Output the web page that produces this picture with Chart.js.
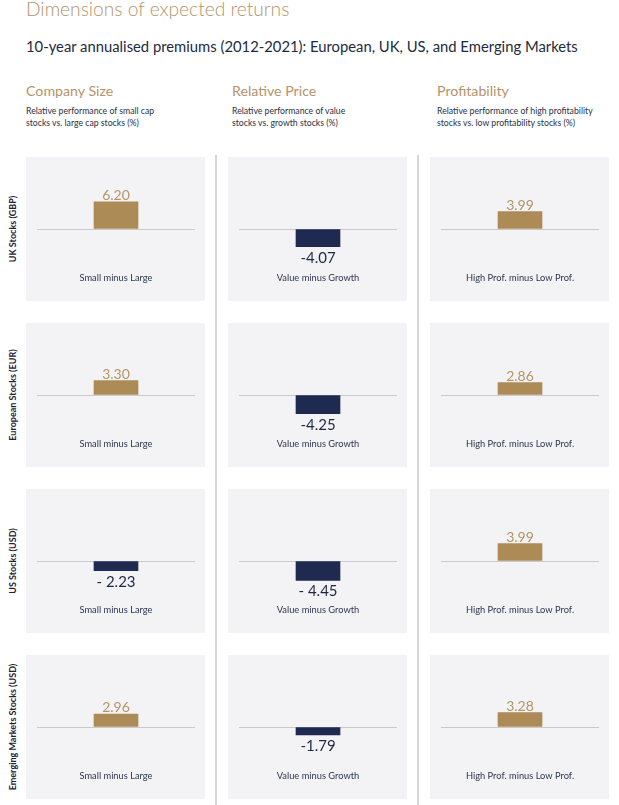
<!DOCTYPE html>
<html>
<head>
<meta charset="utf-8">
<script src="https://cdn.jsdelivr.net/npm/chart.js@4.4.1/dist/chart.umd.min.js"></script>
<style>
  html, body { margin: 0; padding: 0; background: #fff; }
  body { width: 619px; height: 805px; position: relative; overflow: hidden; font-family: Lato, "Open Sans", sans-serif; }
  .abs { position: absolute; white-space: nowrap; }
  #title { left: 26px; top: -4px; font-size: 19.2px; font-weight: 300; color: #b3946a; line-height: 26px; }
  #subtitle { left: 26px; top: 37px; font-size: 14.8px; color: #232a40; line-height: 18px; }
  .head { font-size: 14.2px; color: #b3946a; line-height: 18px; }
  .note { font-size: 8.7px; color: #2a2f45; line-height: 12px; }
  .rowlab { font-size: 9px; font-weight: 700; color: #1b2035; transform: translate(-50%, -50%) rotate(-90deg); }
  .panel { position: absolute; background: #f3f3f5; }
  .sep { position: absolute; width: 2px; background: #d6d6d9; }
</style>
</head>
<body>
<div id="title" class="abs">Dimensions of expected returns</div>
<div id="subtitle" class="abs">10-year annualised premiums (2012-2021): European, UK, US, and Emerging Markets</div>
<script>
// data
const rowLabels = ['UK Stocks (GBP)', 'European Stocks (EUR)', 'US Stocks (USD)', 'Emerging Markets Stocks (USD)'];
const factorTitles = ['Company Size', 'Relative Price', 'Profitability'];
const factorNotes = [
  ['Relative performance of small cap', 'stocks vs. large cap stocks (%)'],
  ['Relative performance of value', 'stocks vs. growth stocks (%)'],
  ['Relative performance of high profitability', 'stocks vs. low profitability stocks (%)']
];
const categories = ['Small minus Large', 'Value minus Growth', 'High Prof. minus Low Prof.'];
const sizePremium = [6.20, 3.30, -2.23, 2.96];
const valuePremium = [-4.07, -4.25, -4.45, -1.79];
const profPremium = [3.99, 2.86, 3.99, 3.28];
const sizeLabels = ['6.20', '3.30', '- 2.23', '2.96'];
const valueLabels = ['-4.07', '-4.25', '- 4.45', '-1.79'];
const profLabels = ['3.99', '2.86', '3.99', '3.28'];

const series = [sizePremium, valuePremium, profPremium];
const seriesLabels = [sizeLabels, valueLabels, profLabels];

const GOLD = '#ad8b56';
const NAVY = '#1f2a50';
const colX = [26, 228, 430];
const headX = [26, 232, 437];
const rowY = [157, 323, 489, 655];
const PW = 179, PH = 144;

function addDiv(cls, text, css) {
  const d = document.createElement('div');
  d.className = cls;
  d.textContent = text;
  Object.assign(d.style, css);
  document.body.appendChild(d);
  return d;
}

// column headers
factorTitles.forEach((t, c) => {
  addDiv('abs head', t, { left: headX[c] + 'px', top: '82px' });
  factorNotes[c].forEach((line, i) => {
    addDiv('abs note', line, { left: headX[c] + 'px', top: (105 + i * 12) + 'px' });
  });
});

// separators
[215, 417].forEach(x => addDiv('sep', '', { left: x + 'px', top: '155px', height: '650px' }));

// row labels
rowLabels.forEach((t, r) => {
  addDiv('abs rowlab', t, { left: '12px', top: (rowY[r] + 72) + 'px' });
});

const valueLabelPlugin = {
  id: 'valueLabel',
  afterDatasetsDraw(chart) {
    const ctx = chart.ctx;
    const bar = chart.getDatasetMeta(0).data[0];
    const v = chart.data.datasets[0].data[0];
    const txt = chart.options.plugins.valueLabel.text;
    const zero = chart.scales.y.getPixelForValue(0);
    ctx.save();
    ctx.textAlign = 'center';
    ctx.textBaseline = 'alphabetic';
    if (v >= 0) {
      ctx.font = '400 14px Lato';
      ctx.fillStyle = '#b39466';
      ctx.fillText(txt, bar.x, bar.y - 2);
    } else {
      ctx.font = '400 15px Lato';
      ctx.fillStyle = '#1f2745';
      ctx.fillText(txt, bar.x, bar.y + 16);
    }
    ctx.font = '400 9.3px Lato';
    ctx.fillStyle = '#2e3550';
    ctx.textBaseline = 'middle';
    ctx.fillText(chart.data.labels[0], bar.x, zero + 49);
    ctx.restore();
  }
};

series.forEach((vals, c) => {
  vals.forEach((v, r) => {
    const panel = document.createElement('div');
    panel.className = 'panel';
    Object.assign(panel.style, { left: colX[c] + 'px', top: rowY[r] + 'px', width: PW + 'px', height: PH + 'px' });
    const cv = document.createElement('canvas');
    cv.width = PW; cv.height = PH;
    cv.style.width = PW + 'px'; cv.style.height = PH + 'px';
    panel.appendChild(cv);
    document.body.appendChild(panel);

    new Chart(cv, {
      type: 'bar',
      data: {
        labels: [categories[c]],
        datasets: [{
          data: [v],
          backgroundColor: v >= 0 ? GOLD : NAVY,
          borderWidth: 0,
          barThickness: 44
        }]
      },
      options: {
        responsive: false,
        animation: false,
        layout: { padding: { left: 11, right: 10, top: 0, bottom: 0 } },
        plugins: {
          legend: { display: false },
          tooltip: { enabled: false },
          valueLabel: { text: seriesLabels[c][r] }
        },
        scales: {
          x: { display: false },
          y: {
            min: -16.5, max: 16.5,
            ticks: { display: false, stepSize: 16.5 },
            border: { display: false },
            grid: {
              drawTicks: false,
              lineWidth: 1,
              color: (ctx) => ctx.tick && ctx.tick.value === 0 ? '#c8c8cd' : 'rgba(0,0,0,0)'
            }
          }
        }
      },
      plugins: [valueLabelPlugin]
    });
  });
});
</script>
</body>
</html>
